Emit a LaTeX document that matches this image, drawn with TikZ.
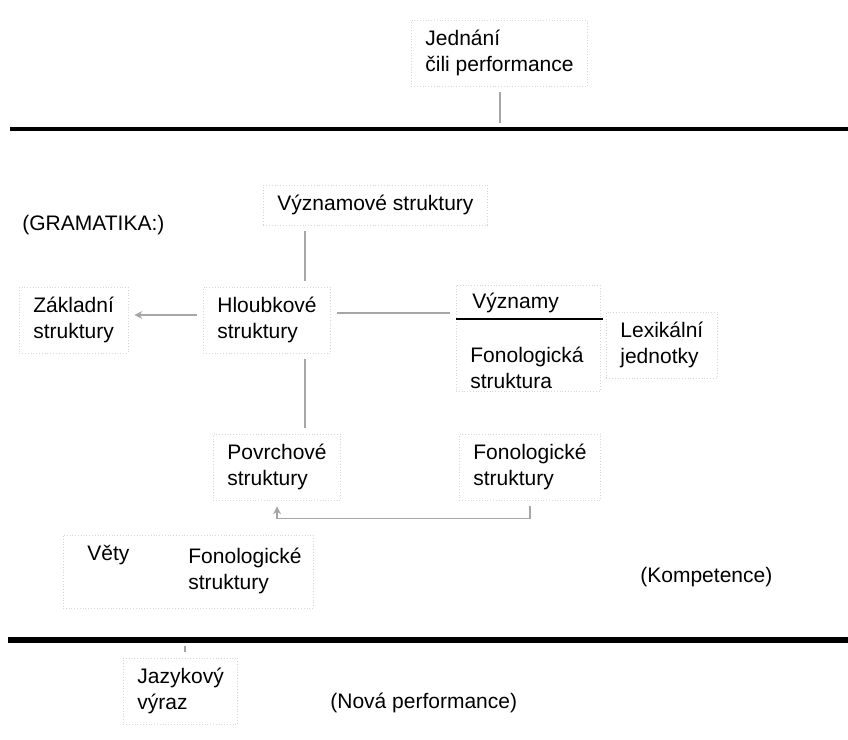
\documentclass[tikz,border=0pt]{standalone}
\usepackage{fontspec}
\setmainfont{Liberation Sans}
\usetikzlibrary{arrows.meta}

\tikzset{
  txt/.style={font=\fontsize{10.5}{13}\selectfont, align=left, inner sep=0pt},
  box/.style={txt, draw=black!16, densely dotted, inner xsep=7pt, inner ysep=5pt},
  link/.style={draw=black!35, line width=0.8pt, shorten <=3pt, shorten >=3pt},
  arr/.style={link, -{Stealth[length=4pt,width=4pt]}},
  bar/.style={line width=2pt},
}

\begin{document}
\begin{tikzpicture}[x=0.5pt,y=-0.5pt]
  \useasboundingbox (0,0) rectangle (848,740);

  % performance
  \node[box,anchor=west] (jedn) at (411,53) {Jednání\\čili performance};
  \draw[bar] (10,129) -- (848,129);
  \coordinate (topx) at (500,129);

  % grammar
  \node[box,anchor=west] (vyzn) at (263,205) {Významové struktury};
  \node[txt,anchor=west] (gram) at (22,225) {(GRAMATIKA:)};
  \node[box,anchor=west] (zakl) at (19,320) {Základní\\struktury};
  \node[box,anchor=west] (hloub) at (203,320) {Hloubkové\\struktury};

  \node[box, minimum width=72pt, minimum height=53pt] (lexbox) at (528,338) {};
  \node[txt,anchor=west] (vyznamy) at (472,303) {Významy};
  \draw[line width=1pt] (456,319) -- (603,319);
  \node[txt,anchor=west] (fonola) at (470,368) {Fonologická\\struktura};
  \node[box,anchor=west] (lexj) at (606,345) {Lexikální\\jednotky};

  \node[box,anchor=west] (povrch) at (213,467) {Povrchové\\struktury};
  \node[box,anchor=west] (fonol) at (459,467) {Fonologické\\struktury};

  \node[box, minimum width=125pt, minimum height=36.5pt] (vetybox) at (188,571.5) {};
  \node[txt,anchor=west] (vety) at (87,555) {Věty};
  \node[txt,anchor=west] (fonol2) at (188,571) {Fonologické\\struktury};
  \node[txt,anchor=west] (komp) at (640,577) {(Kompetence)};

  % new performance
  \draw[line width=3pt] (8,640) -- (848,640);
  \coordinate (botx) at (185,640);
  \node[box,anchor=west] (jazyk) at (123,691) {Jazykový\\výraz};
  \node[txt,anchor=west] (nova) at (330,703) {(Nová performance)};

  % connectors
  \coordinate (vx) at (305,0);
  \draw[link] (jedn.south -| topx) -- (topx);
  \draw[link] (vyzn.south -| vx) -- (hloub.north -| vx);
  \draw[arr] ([yshift=2.5pt]hloub.west) -- ([yshift=2.5pt]zakl.east);
  \draw[link] ([yshift=3.5pt]hloub.east) -- ([yshift=3.5pt]hloub.east -| lexbox.west);
  \draw[link] (hloub.south -| vx) -- (povrch.north -| vx);
  \draw[arr] (fonol.south) -- ++(0,18) -| (povrch.south);
  \draw[link] (botx) -- (jazyk.north -| botx);
\end{tikzpicture}
\end{document}
